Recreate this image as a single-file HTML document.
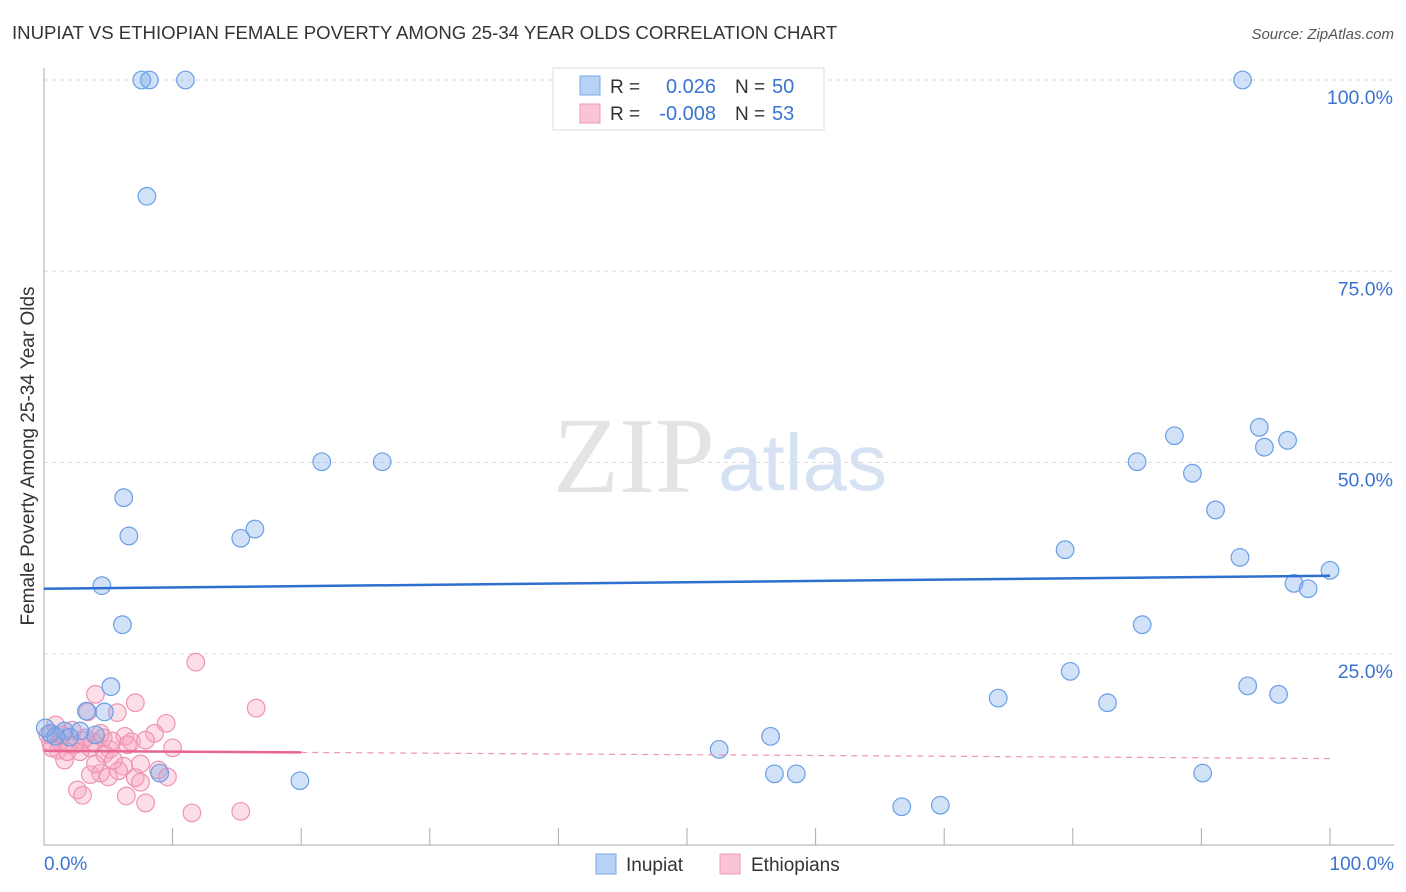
<!DOCTYPE html>
<html><head><meta charset="utf-8"><style>
body{margin:0;background:#fff;font-family:"Liberation Sans",sans-serif;}
svg{display:block}
</style></head><body>
<svg id="chart" width="1406" height="892">
<text x="12" y="39" font-size="18.6" fill="#333">INUPIAT VS ETHIOPIAN FEMALE POVERTY AMONG 25-34 YEAR OLDS CORRELATION CHART</text>
<text x="1394" y="39" font-size="15" fill="#555" font-style="italic" text-anchor="end">Source: ZipAtlas.com</text>
<text transform="translate(34,456) rotate(-90)" font-size="19" fill="#333" text-anchor="middle">Female Poverty Among 25-34 Year Olds</text>
<g id="grid"></g>
<g id="axes"></g>
<text x="553" y="492" font-size="108" fill="#e4e4e4" font-family="Liberation Serif,serif">ZIP</text>
<text x="718" y="490" font-size="80" fill="#d6e2f4">atlas</text>
<g id="pts"></g>
<g id="trend"></g>
<g>
<rect x="553" y="68" width="271" height="62" fill="#fff" stroke="#ddd"/>
<rect x="580" y="76" width="20" height="19" fill="#b7d2f5" stroke="#7aaae8"/>
<rect x="580" y="104" width="20" height="19" fill="#f9c4d4" stroke="#ef9ab5"/>
<text x="610" y="93" font-size="19" fill="#333">R = </text><text x="716" y="93" font-size="20" fill="#3a74d0" text-anchor="end">0.026</text>
<text x="735" y="93" font-size="19" fill="#333">N = </text><text x="772" y="93" font-size="20" fill="#3a74d0">50</text>
<text x="610" y="120" font-size="19" fill="#333">R = </text><text x="716" y="120" font-size="20" fill="#3a74d0" text-anchor="end">-0.008</text>
<text x="735" y="120" font-size="19" fill="#333">N = </text><text x="772" y="120" font-size="20" fill="#3a74d0">53</text>
</g>
<g>
<rect x="596" y="854" width="20" height="20" fill="#b7d2f5" stroke="#7aaae8"/>
<text x="626" y="871" font-size="19" fill="#333">Inupiat</text>
<rect x="720" y="854" width="20" height="20" fill="#f9c4d4" stroke="#ef9ab5"/>
<text x="751" y="871" font-size="19" fill="#333">Ethiopians</text>
</g>
</svg>
<script>
const blueX=[7.6,8.2,11.0,93.2,8.0,21.6,26.3,6.2,6.6,15.3,16.4,4.5,6.1,5.2,3.3,4.7,1.6,2.8,4.0,9.0,19.9,52.5,56.5,56.8,58.5,66.7,69.7,74.2,79.4,79.8,82.7,85.0,85.4,87.9,89.3,91.1,93.0,93.6,94.5,94.9,96.0,96.7,97.2,98.3,100,90.1,0.5,0.9,2.0,0.1];
const blueY=[100,100,100,100,84.8,50.1,50.1,45.4,40.4,40.1,41.3,33.9,28.8,20.7,17.5,17.4,14.9,14.9,14.4,9.4,8.4,12.5,14.2,9.3,9.3,5.0,5.2,19.2,38.6,22.7,18.6,50.1,28.8,53.5,48.6,43.8,37.6,20.8,54.6,52.0,19.7,52.9,34.2,33.5,35.9,9.4,14.6,14.2,14.1,15.3];
const pinkX=[11.8,16.5,7.1,4.0,5.7,9.5,3.4,8.6,6.3,10.0,5.1,6.5,4.4,3.0,1.2,0.5,2.0,1.1,3.6,4.7,6.2,7.5,8.9,9.6,3.6,4.4,5.8,7.1,5.0,2.6,3.0,6.4,7.9,11.5,15.3,0.3,1.4,2.4,2.8,1.6,5.4,4.0,4.6,6.8,7.9,0.9,2.2,3.8,3.2,7.5,0.6,1.8,5.3];
const pinkY=[23.9,17.9,18.6,19.7,17.3,15.9,17.4,14.6,14.2,12.7,12.5,13.1,14.6,13.7,13.5,13.5,13.1,12.4,12.7,11.9,10.3,10.6,9.8,8.9,9.2,9.4,9.7,8.8,8.9,7.2,6.5,6.4,5.5,4.2,4.4,14.4,14.4,13.1,12.2,11.1,11.1,10.6,14.0,13.5,13.7,15.7,15.0,13.5,14.0,8.2,12.7,12.2,13.6];
const yTicks=[25,50,75,100];
const xTickLabels=["0.0%","100.0%"];
const blueTrend=[33.5,35.2];
const pinkTrend=[12.3,11.3];
const NS="http://www.w3.org/2000/svg";
const sx=v=>44+v*12.86, sy=v=>845-v*7.65;
function mk(t,a,p){const e=document.createElementNS(NS,t);for(const k in a)e.setAttribute(k,a[k]);p.appendChild(e);return e;}
const grid=document.getElementById('grid'),axes=document.getElementById('axes');
yTicks.forEach(t=>{
  const l=mk('line',{x1:44,x2:1394,y1:sy(t),y2:sy(t),stroke:'#ddd','stroke-dasharray':'4,4'},grid);
  
  
  const tx=mk('text',{x:1393,y:sy(t)+24,'font-size':19.5,fill:'#3a74d0','text-anchor':'end'},axes);
  tx.textContent=t.toFixed(1)+'%';
  
  
});
mk('line',{x1:44,x2:44,y1:68,y2:845,stroke:'#aaa'},axes);
mk('line',{x1:44,x2:1394,y1:845,y2:845,stroke:'#aaa'},axes);
for(let i=0;i<=10;i++){mk('line',{x1:sx(i*10),x2:sx(i*10),y1:828,y2:845,stroke:'#aaa'},axes);}
[[0,'start',44],[1,'end',1394]].forEach(([i,a,x])=>{const t=mk('text',{x:x,y:870,'font-size':19,fill:'#3a74d0','text-anchor':a},axes);t.textContent=xTickLabels[i];

});
const pts=document.getElementById('pts');
pinkX.forEach((x,i)=>{const c=mk('circle',{cx:sx(x),cy:sy(pinkY[i]),r:8.8,fill:'rgba(245,160,190,0.35)',stroke:'#ee94b2','stroke-width':1.2},pts);

});
blueX.forEach((x,i)=>{const c=mk('circle',{cx:sx(x),cy:sy(blueY[i]),r:8.8,fill:'rgba(120,170,235,0.35)',stroke:'#6a9fe6','stroke-width':1.2},pts);

});
const tr=document.getElementById('trend');
const bl=mk('line',{x1:sx(0),x2:sx(100),y1:sy(blueTrend[0]),y2:sy(blueTrend[1]),stroke:'#2f6fd0','stroke-width':2.5},tr);


const py=x=>pinkTrend[0]+(pinkTrend[1]-pinkTrend[0])*x/100;
const pl=mk('line',{x1:sx(0),x2:sx(20),y1:sy(py(0)),y2:sy(py(20)),stroke:'#e8658f','stroke-width':2.5},tr);


const pd=mk('line',{x1:sx(20),x2:sx(100),y1:sy(py(20)),y2:sy(py(100)),stroke:'#ef94b2','stroke-width':1.2,'stroke-dasharray':'6,5'},tr);


</script>
</body></html>
